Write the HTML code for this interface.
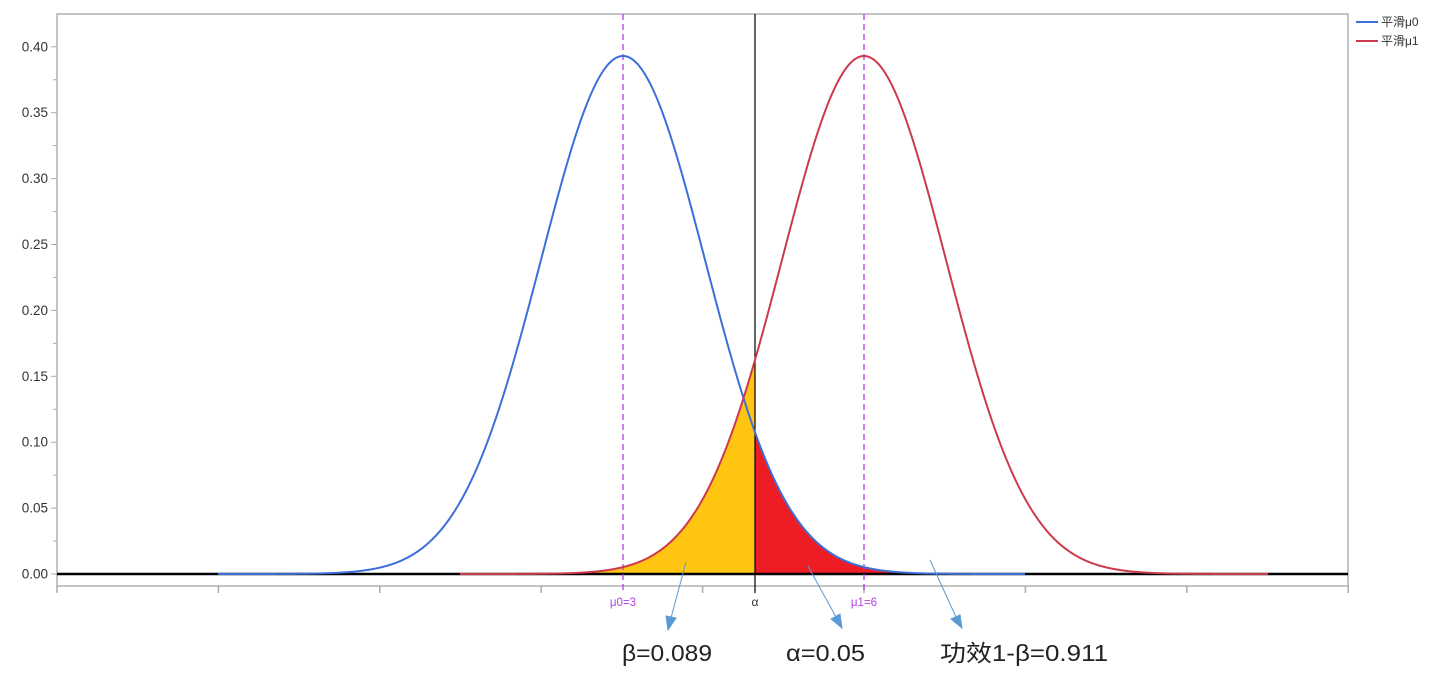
<!DOCTYPE html>
<html><head><meta charset="utf-8"><style>
html,body{margin:0;padding:0;background:#fff;width:1444px;height:675px;overflow:hidden}
svg{display:block;font-family:"Liberation Sans","Noto Sans CJK SC",sans-serif}
</style></head><body>
<svg id="s" width="1444" height="675" xmlns="http://www.w3.org/2000/svg">
<rect x="57" y="14" width="1291" height="572" fill="#fff" stroke="#b0b0b0" stroke-width="1.5"/>
<g id="yt" font-size="13.5" fill="#333" text-anchor="end"></g>
<g id="xt" stroke="#aaa" stroke-width="1.5"></g>
<path id="fy" fill="#ffc510"/>
<path id="fr" fill="#ee1c25"/>
<line x1="57" y1="574" x2="1348" y2="574" stroke="#000" stroke-width="2.5"/>
<line x1="755" y1="14" x2="755" y2="593" stroke="#000" stroke-width="1.2"/>
<line x1="623" y1="14" x2="623" y2="592" stroke="#b13ee8" stroke-width="1.3" stroke-dasharray="6,4"/>
<line x1="864" y1="14" x2="864" y2="592" stroke="#b13ee8" stroke-width="1.3" stroke-dasharray="6,4"/>
<path id="cb" fill="none" stroke="#3c6fd8" stroke-width="2"/>
<path id="cr" fill="none" stroke="#cc3a4c" stroke-width="2"/>
<text x="623" y="606" font-size="11.5" fill="#b13ee8" text-anchor="middle">μ0=3</text>
<text x="864" y="606" font-size="11.5" fill="#b13ee8" text-anchor="middle">μ1=6</text>
<text x="755" y="606" font-size="12" fill="#333" text-anchor="middle">α</text>
<line x1="1356" y1="22" x2="1378" y2="22" stroke="#3c6fd8" stroke-width="2"/>
<line x1="1356" y1="41" x2="1378" y2="41" stroke="#cc3a4c" stroke-width="2"/>
<text x="1381" y="26" font-size="12" fill="#333">平滑μ0</text>
<text x="1381" y="45" font-size="12" fill="#333">平滑μ1</text>
<g stroke="#5b9bd5" stroke-width="1" fill="#5b9bd5">
<line x1="686" y1="562" x2="671" y2="618"/><polygon points="666,616 676,618 668,630"/>
<line x1="808" y1="566" x2="836" y2="617"/><polygon points="831,619 840,614 842,628"/>
<line x1="930" y1="560" x2="956" y2="617"/><polygon points="951,619 960,615 962,628"/>
</g>
<g font-size="23" fill="#222">
<text x="622" y="661" textLength="90" lengthAdjust="spacingAndGlyphs">β=0.089</text>
<text x="786" y="661" textLength="79" lengthAdjust="spacingAndGlyphs">α=0.05</text>
<text x="940" y="661" textLength="168" lengthAdjust="spacingAndGlyphs">功效1-β=0.911</text>
</g>
</svg>
<script>
var ns="http://www.w3.org/2000/svg";
var yt=document.getElementById('yt');
for(var i=0;i<=8;i++){var y=574-i*65.9;
 var t=document.createElementNS(ns,'text');t.setAttribute('x',48);t.setAttribute('y',y+4.5);t.textContent=(i*0.05).toFixed(2);yt.appendChild(t);
 var l=document.createElementNS(ns,'line');l.setAttribute('x1',51);l.setAttribute('x2',57);l.setAttribute('y1',y);l.setAttribute('y2',y);l.setAttribute('stroke','#aaa');yt.appendChild(l);
 if(i<8){var m=document.createElementNS(ns,'line');m.setAttribute('x1',53);m.setAttribute('x2',57);m.setAttribute('y1',y-32.95);m.setAttribute('y2',y-32.95);m.setAttribute('stroke','#aaa');yt.appendChild(m);}
}
var xt=document.getElementById('xt');
for(var i=0;i<9;i++){var x=57+i*161.4;var l=document.createElementNS(ns,'line');l.setAttribute('x1',x);l.setAttribute('x2',x);l.setAttribute('y1',586);l.setAttribute('y2',593);xt.appendChild(l);}
var s=82,H=518;
function f(x,m){var z=(x-m)/s;return 574-H*Math.exp(-z*z/2);}
function p(m,a,b){var d='';for(var x=a;x<=b;x+=1){d+=(x==a?'M':'L')+x+','+f(x,m).toFixed(2);}return d;}
document.getElementById('cb').setAttribute('d',p(623,218,1025));
document.getElementById('cr').setAttribute('d',p(864,460,1268));
document.getElementById('fy').setAttribute('d',p(864,560,755)+'L755,574L560,574Z');
document.getElementById('fr').setAttribute('d',p(623,755,1000)+'L1000,574L755,574Z');
</script>
</body></html>
